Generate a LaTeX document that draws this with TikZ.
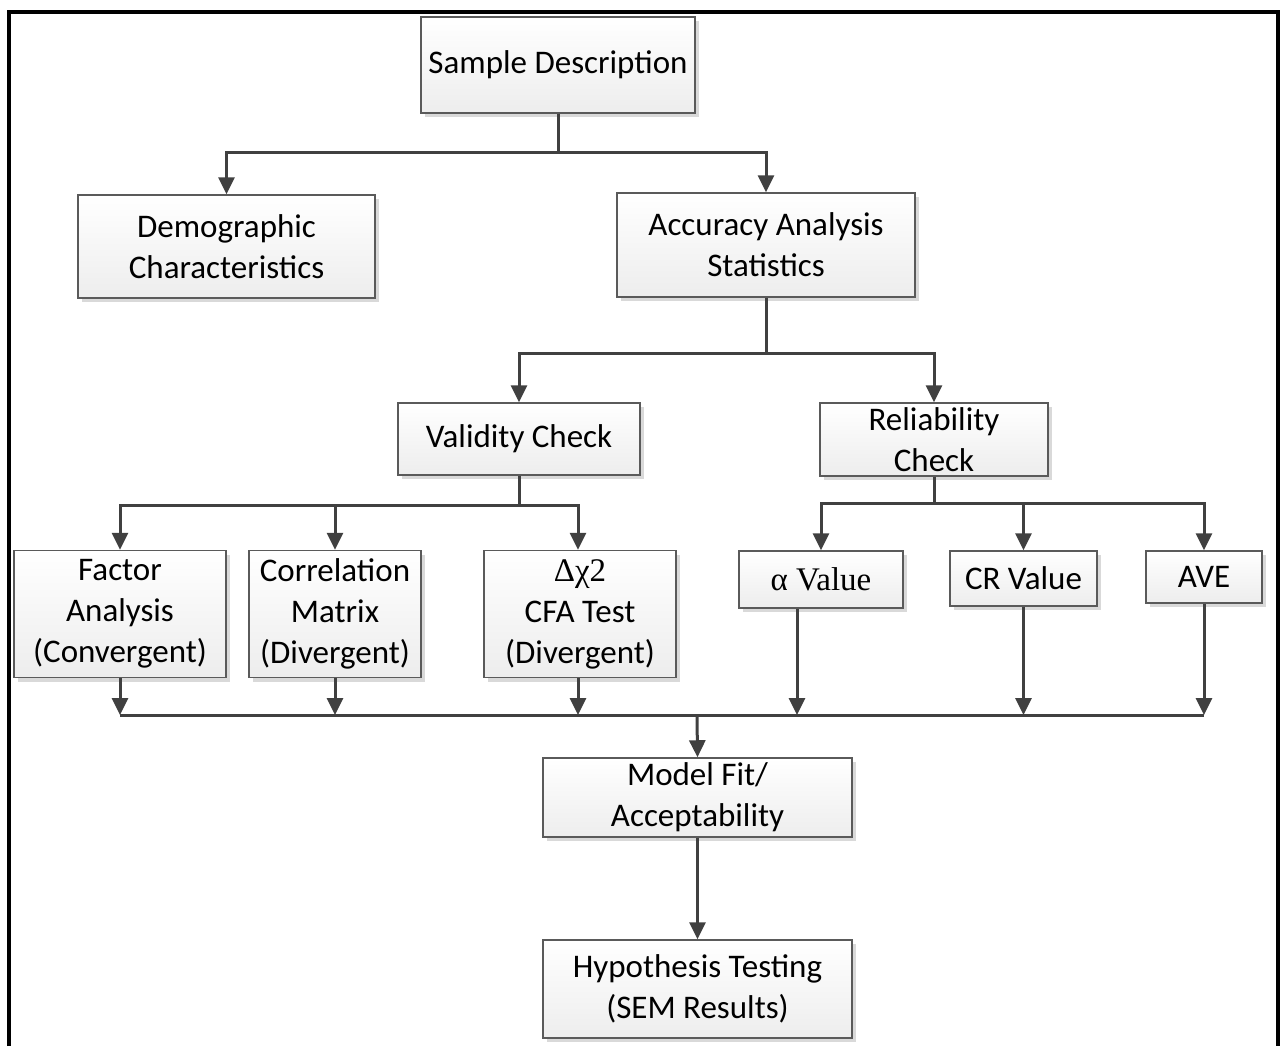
\documentclass[tikz,border=0pt]{standalone}
\usepackage{fontspec}
\setmainfont{Carlito}
\newfontfamily\tnr{Liberation Serif}
\usepackage{xcolor}
\usepackage{tikz}
\usetikzlibrary{arrows.meta}
\usetikzlibrary{shadows}
\usetikzlibrary{positioning}
\definecolor{linegray}{HTML}{404040}
\definecolor{boxgray}{HTML}{5A5A5A}
\definecolor{fillgray}{HTML}{EDEDED}
\tikzset{blk/.style={draw=boxgray, line width=1.5pt, top color=white, bottom color=fillgray,
  drop shadow={shadow xshift=4pt, shadow yshift=-4pt, fill=black!15, opacity=1},
  align=center, inner sep=0pt, font=\fontsize{33}{41}\selectfont}}
\tikzset{conn/.style={draw=linegray, line width=3pt}}
\tikzset{arr/.style={conn, -{Triangle[length=17pt,width=16pt]}}}

\begin{document}
\begin{tikzpicture}[x=1pt,y=-1pt]
\useasboundingbox (0,0) rectangle (1281,1046);
\draw[line width=4pt] (9,1046) -- (9,12) -- (1278,12) -- (1278,1046);
\node[blk, minimum width=274, minimum height=96] (samp) at (558,65) {Sample Description};
\node[blk, minimum width=297, minimum height=103] (demo) at (226.5,246.5) {Demographic\\Characteristics};
\node[blk, minimum width=298, minimum height=104] (accu) at (766,245) {Accuracy Analysis\\Statistics};
\node[blk, minimum width=242, minimum height=72] (vali) at (519,439) {Validity Check};
\node[blk, minimum width=228, minimum height=73] (reli) at (934,439.5) {Reliability\\Check};
\node[blk, minimum width=212, minimum height=127] (fact) at (120,614) {Factor\\Analysis\\(Convergent)};
\node[blk, minimum width=172, minimum height=127] (corr) at (335,614) {Correlation\\Matrix\\(Divergent)};
\node[blk, minimum width=192, minimum height=127] (dchi) at (580,614) {{\tnr Δχ2}\\CFA Test\\(Divergent)};
\node[blk, minimum width=164, minimum height=57] (alph) at (821,579.5) {\tnr α Value};
\node[blk, minimum width=147, minimum height=55] (crv) at (1023.5,578.5) {CR Value};
\node[blk, minimum width=116, minimum height=52] (ave) at (1204,577) {AVE};
\node[blk, minimum width=309, minimum height=79] (model) at (697.5,797.5) {Model Fit/\\Acceptability};
\node[blk, minimum width=309, minimum height=98] (hypo) at (697.5,989) {Hypothesis Testing\\(SEM Results)};
\coordinate (bus) at (697,715);
\draw[arr] (samp.south) -- ++(0,39) -| (demo.north);
\draw[arr] (samp.south) -- ++(0,39) -| (accu.north);
\draw[arr] (accu.south) -- ++(0,56) -| (vali.north);
\draw[arr] (accu.south) -- ++(0,56) -| (reli.north);
\draw[arr] (vali.south) -- ++(0,30) -| (fact.north);
\draw[arr] (vali.south) -- ++(0,30) -| (corr.north);
\draw[arr] (vali.south) -- ++(0,30) -| ([xshift=-2pt]dchi.north);
\draw[arr] (reli.south) -- ++(0,27) -| (alph.north);
\draw[arr] (reli.south) -- ++(0,27) -| (crv.north);
\draw[arr] (reli.south) -- ++(0,27) -| (ave.north);
\draw[conn] (fact.south |- bus) -- (ave.south |- bus);
\draw[arr] (fact.south) -- (fact.south |- bus);
\draw[arr] (corr.south) -- (corr.south |- bus);
\draw[arr] ([xshift=-2pt]dchi.south) -- ([xshift=-2pt]dchi.south |- bus);
\draw[arr] ([xshift=-24pt]alph.south) -- ([xshift=-24pt]alph.south |- bus);
\draw[arr] (crv.south) -- (crv.south |- bus);
\draw[arr] (ave.south) -- (ave.south |- bus);
\draw[arr] (bus) -- (model.north);
\draw[arr] (model.south) -- (hypo.north);
\end{tikzpicture}
\end{document}
